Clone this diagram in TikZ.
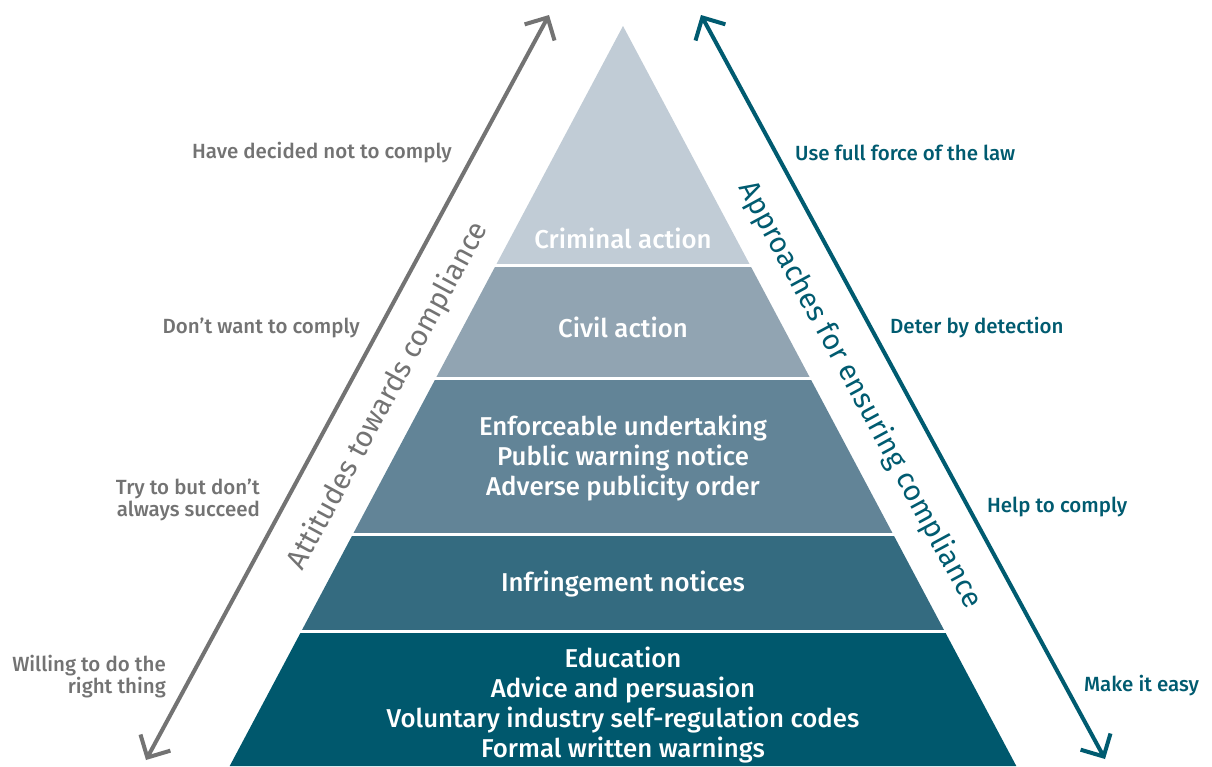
\documentclass[tikz,border=0pt]{standalone}
\usepackage{fontspec}
\setmainfont{Fira Sans}
\IfFontExistsTF{Fira Sans Medium}{\newfontfamily\medfont{Fira Sans Medium}}{\newfontfamily\medfont{Fira Sans}[FakeBold=1.3]}
\usetikzlibrary{arrows.meta,calc}
\definecolor{crim}{HTML}{C1CCD6}
\definecolor{civ}{HTML}{91A4B2}
\definecolor{enf}{HTML}{628497}
\definecolor{inf}{HTML}{346B80}
\definecolor{edu}{HTML}{00586D}
\definecolor{lgray}{HTML}{737373}
\definecolor{teal}{HTML}{005B70}
\tikzset{
  gap/.style={draw=white,line width=3pt},
  ptext/.style={text=white,align=center,font=\medfont\fontsize{25.8}{30.2}\selectfont,inner sep=0pt},
  llabel/.style={text=lgray,align=right,anchor=east,font=\medfont\fontsize{20.5}{22}\selectfont,inner sep=0pt},
  rlabel/.style={text=teal,align=left,anchor=west,font=\medfont\fontsize{20.5}{22}\selectfont,inner sep=0pt},
  axisarrow/.style={line width=4pt,{Straight Barb[length=17pt,width=34pt]}-{Straight Barb[length=17pt,width=34pt]}},
  axistext/.style={font=\fontsize{29}{32}\selectfont,inner sep=0pt},
}
\begin{document}
\begin{tikzpicture}[x=1pt,y=-1pt]
\useasboundingbox (0,0) rectangle (1212,766);
\fill[white] (0,0) rectangle (1212,766);
% pyramid
\coordinate (A) at (623,26);
\coordinate (L) at (229.7,766);
\coordinate (R) at (1016.3,766);
\coordinate (l1) at ($(A)!0.3243!(L)$); \coordinate (r1) at ($(A)!0.3243!(R)$);
\coordinate (l2) at ($(A)!0.4770!(L)$); \coordinate (r2) at ($(A)!0.4770!(R)$);
\coordinate (l3) at ($(A)!0.6865!(L)$); \coordinate (r3) at ($(A)!0.6865!(R)$);
\coordinate (l4) at ($(A)!0.8189!(L)$); \coordinate (r4) at ($(A)!0.8189!(R)$);
\fill[crim] (A) -- (r1) -- (l1) -- cycle;
\fill[civ] (l1) -- (r1) -- (r2) -- (l2) -- cycle;
\fill[enf] (l2) -- (r2) -- (r3) -- (l3) -- cycle;
\fill[inf] (l3) -- (r3) -- (r4) -- (l4) -- cycle;
\fill[edu] (l4) -- (r4) -- (R) -- (L) -- cycle;
\draw[gap] ($(l1)+(-5,0)$) -- ($(r1)+(5,0)$);
\draw[gap] ($(l2)+(-5,0)$) -- ($(r2)+(5,0)$);
\draw[gap] ($(l3)+(-5,0)$) -- ($(r3)+(5,0)$);
\draw[gap] ($(l4)+(-5,0)$) -- ($(r4)+(5,0)$);
% pyramid texts
\node[ptext] (crimt) at (623,238) {Criminal action};
\node[ptext] (civt) at (623,327) {Civil action};
\node[ptext] (enft) at (623,458) {Enforceable undertaking\\Public warning notice\\Adverse publicity order};
\node[ptext] (inft) at (623,584) {Infringement notices};
\node[ptext] (edut) at (623,705) {Education\\Advice and persuasion\\Voluntary industry self-regulation codes\\Formal written warnings};
% axes
\coordinate (lb) at (146,760);
\coordinate (lt) at (549,15);
\coordinate (rt) at (701,15);
\coordinate (rb) at (1105,759);
\draw[axisarrow,draw=lgray] (lb) -- (lt);
\draw[axisarrow,draw=teal] (rt) -- (rb);
\node[axistext,text=lgray,rotate=61.6] (att) at (388,396) {Attitudes towards compliance};
\node[axistext,text=teal,rotate=-61.6] (app) at (860,395) {Approaches for ensuring compliance};
% left labels
\node[llabel] (l1t) at (452,153) {Have decided not to comply};
\node[llabel] (l2t) at (360,328) {Don’t want to comply};
\node[llabel] (l3t) at (260,500) {Try to but don’t\\always succeed};
\node[llabel] (l4t) at (166,677) {Willing to do the\\right thing};
% right labels
\node[rlabel] (r1t) at (795,153) {Use full force of the law};
\node[rlabel] (r2t) at (890,328) {Deter by detection};
\node[rlabel] (r3t) at (987,507) {Help to comply};
\node[rlabel] (r4t) at (1084,686) {Make it easy};
\end{tikzpicture}
\end{document}
